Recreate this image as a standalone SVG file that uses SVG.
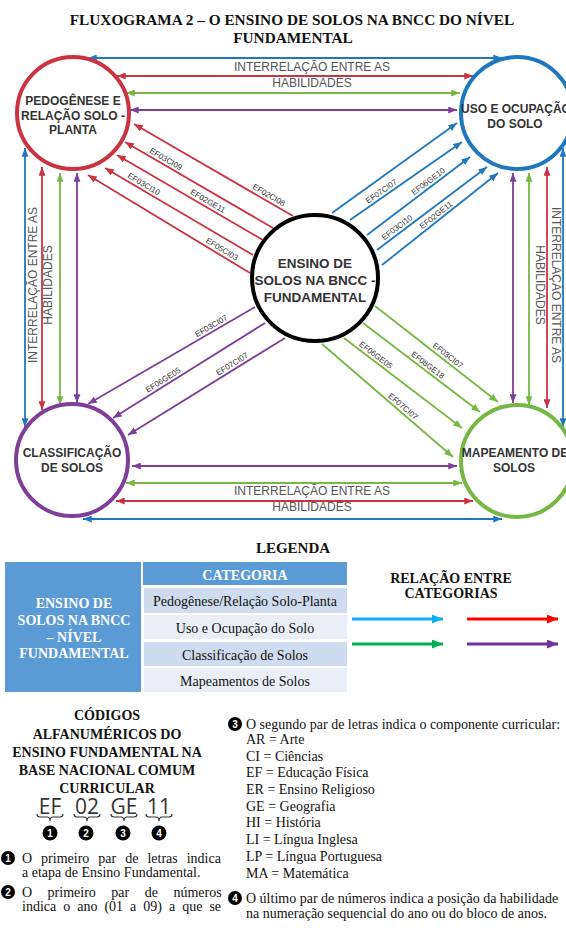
<svg xmlns="http://www.w3.org/2000/svg" width="566" height="928" viewBox="0 0 566 928">
<style>
.bg{fill:#fff}
.ttl{font-family:"Liberation Serif","Times New Roman",serif;font-weight:bold;font-size:15.3px;fill:#111;text-anchor:middle}
.ring{fill:#fff;stroke-width:4}
.nt{font-family:"Liberation Sans",Arial,sans-serif;font-weight:bold;font-size:12px;fill:#333;text-anchor:middle}
.ct{font-family:"Liberation Sans",Arial,sans-serif;font-weight:bold;font-size:13.5px;fill:#333;text-anchor:middle}
.cn{fill:none;stroke-width:1.8}
.r{stroke:#cc3340}.b{stroke:#1f78bd}.g{stroke:#76b843}.p{stroke:#7f3f98}
.r.cn{marker-end:url(#mr)}.b.cn{marker-end:url(#mb)}.g.cn{marker-end:url(#mg)}.p.cn{marker-end:url(#mp)}
.dr{marker-start:url(#mr)}.db{marker-start:url(#mb)}.dg{marker-start:url(#mg)}.dp{marker-start:url(#mp)}
.lb{font-family:"Liberation Sans",Arial,sans-serif;font-size:8px;fill:#333;text-anchor:middle}
.hab{font-family:"Liberation Sans",Arial,sans-serif;font-size:12px;fill:#555;text-anchor:middle}
.sf{font-family:"Liberation Serif","Times New Roman",serif;font-size:14px;fill:#111}
.sfb{font-family:"Liberation Serif","Times New Roman",serif;font-size:14px;font-weight:bold;fill:#111;text-anchor:middle}
.wt{fill:#fff}
.cell1{fill:#cfdbee}.cell2{fill:#e9eef7}
.code{font-family:"Open Sans","Noto Sans",sans-serif;font-size:21px;fill:#333;text-anchor:middle}
.brace{fill:none;stroke:#333;stroke-width:1.2}
.num{font-family:"Liberation Sans",Arial,sans-serif;font-weight:bold;font-size:10px;fill:#fff;text-anchor:middle}
.lg{fill:none;stroke-width:3}
</style>
<defs>
<marker id="mr" viewBox="0 0 10 8" refX="10" refY="4" markerWidth="9" markerHeight="7" markerUnits="userSpaceOnUse" orient="auto-start-reverse"><path d="M0,0L10,4L0,8z" fill="#cc3340"/></marker>
<marker id="mb" viewBox="0 0 10 8" refX="10" refY="4" markerWidth="9" markerHeight="7" markerUnits="userSpaceOnUse" orient="auto-start-reverse"><path d="M0,0L10,4L0,8z" fill="#1f78bd"/></marker>
<marker id="mg" viewBox="0 0 10 8" refX="10" refY="4" markerWidth="9" markerHeight="7" markerUnits="userSpaceOnUse" orient="auto-start-reverse"><path d="M0,0L10,4L0,8z" fill="#76b843"/></marker>
<marker id="mp" viewBox="0 0 10 8" refX="10" refY="4" markerWidth="9" markerHeight="7" markerUnits="userSpaceOnUse" orient="auto-start-reverse"><path d="M0,0L10,4L0,8z" fill="#7f3f98"/></marker>
<marker id="lc" viewBox="0 0 10 8" refX="10" refY="4" markerWidth="11" markerHeight="9" markerUnits="userSpaceOnUse" orient="auto"><path d="M0,0L10,4L0,8z" fill="#12aef0"/></marker>
<marker id="lr" viewBox="0 0 10 8" refX="10" refY="4" markerWidth="11" markerHeight="9" markerUnits="userSpaceOnUse" orient="auto"><path d="M0,0L10,4L0,8z" fill="#ff0000"/></marker>
<marker id="lgm" viewBox="0 0 10 8" refX="10" refY="4" markerWidth="11" markerHeight="9" markerUnits="userSpaceOnUse" orient="auto"><path d="M0,0L10,4L0,8z" fill="#00b050"/></marker>
<marker id="lp" viewBox="0 0 10 8" refX="10" refY="4" markerWidth="11" markerHeight="9" markerUnits="userSpaceOnUse" orient="auto"><path d="M0,0L10,4L0,8z" fill="#7030a0"/></marker>
</defs>
<rect class="bg" width="566" height="928"/>

<g id="title">
<text class="ttl" x="292" y="25">FLUXOGRAMA 2 – O ENSINO DE SOLOS NA BNCC DO NÍVEL</text>
<text class="ttl" x="293" y="43">FUNDAMENTAL</text>
</g>

<g id="connectors">
<path class="cn b db" d="M88,58H502"/>
<path class="cn r dr" d="M117,76H473"/>
<path class="cn g dg" d="M126,93H460"/>
<path class="cn p dp" d="M130,110H457"/>
<path class="cn p dp" d="M132,466H457"/>
<path class="cn g dg" d="M126,483H462"/>
<path class="cn r dr" d="M116,501H473"/>
<path class="cn b db" d="M83,519H502"/>
<path class="cn b db" d="M25,148V427"/>
<path class="cn r dr" d="M42,167V410"/>
<path class="cn g dg" d="M60,173V405"/>
<path class="cn p dp" d="M77,173V403"/>
<path class="cn p dp" d="M513,173V403"/>
<path class="cn g dg" d="M529,173V405"/>
<path class="cn r dr" d="M547,167V408"/>
<path class="cn b db" d="M563,148V427"/>
<path class="cn r" d="M293,216L134,124"/>
<path class="cn r" d="M273,228L125,142"/>
<path class="cn r" d="M263,240L117,155"/>
<path class="cn r" d="M253,255L105,168"/>
<path class="cn r" d="M250,273L88,175"/>
<path class="cn b" d="M332,213L457,123"/>
<path class="cn b" d="M350,220L462,142"/>
<path class="cn b" d="M367,235L470,157"/>
<path class="cn b" d="M377,250L487,167"/>
<path class="cn b" d="M382,265L498,173"/>
<path class="cn g" d="M375,306L498,402"/>
<path class="cn g" d="M363,323L480,412"/>
<path class="cn g" d="M344,338L462,428"/>
<path class="cn g" d="M322,344L453,457"/>
<path class="cn p" d="M255,307L88,404"/>
<path class="cn p" d="M265,323L113,418"/>
<path class="cn p" d="M285,338L128,435"/>

<text class="hab" x="312" y="71">INTERRELAÇÃO ENTRE AS</text>
<text class="hab" x="312" y="87">HABILIDADES</text>
<text class="hab" x="312" y="495">INTERRELAÇÃO ENTRE AS</text>
<text class="hab" x="312" y="511">HABILIDADES</text>
<text class="hab" transform="translate(37,285) rotate(-90)">INTERRELAÇÃO ENTRE AS</text>
<text class="hab" transform="translate(52,285) rotate(-90)">HABILIDADES</text>
<text class="hab" transform="translate(552,285) rotate(90)">INTERRELAÇÃO ENTRE AS</text>
<text class="hab" transform="translate(536,285) rotate(90)">HABILIDADES</text>

<text class="lb" transform="translate(163,164) rotate(30.2)" y="-3">EF03CI09</text>
<text class="lb" transform="translate(266,200) rotate(30.1)" y="-3">EF02CI08</text>
<text class="lb" transform="translate(141,189) rotate(30.5)" y="-3">EF03CI10</text>
<text class="lb" transform="translate(205,206) rotate(30.2)" y="-3">EF02GE11</text>
<text class="lb" transform="translate(219,254) rotate(31.2)" y="-3">EF05CI03</text>
<text class="lb" transform="translate(384.5,196) rotate(-34.8)" y="-3">EF07CI07</text>
<text class="lb" transform="translate(431.5,186) rotate(-37.1)" y="-3">EF06GE10</text>
<text class="lb" transform="translate(400.5,232) rotate(-37)" y="-3">EF03CI10</text>
<text class="lb" transform="translate(439.5,219.5) rotate(-38.4)" y="-3">EF02GE11</text>
<text class="lb" transform="translate(444.3,360) rotate(38)" y="-3">EF03CI07</text>
<text class="lb" transform="translate(424.3,369.6) rotate(37.3)" y="-3">EF08GE18</text>
<text class="lb" transform="translate(372.3,359.6) rotate(37.3)" y="-3">EF06GE05</text>
<text class="lb" transform="translate(399.3,410.7) rotate(40.8)" y="-3">EF07CI07</text>
<text class="lb" transform="translate(214.1,330.8) rotate(-30.2)" y="-3">EF03CI07</text>
<text class="lb" transform="translate(166.1,384.8) rotate(-32)" y="-3">EF06GE05</text>
<text class="lb" transform="translate(235.1,368.8) rotate(-31.7)" y="-3">EF07CI07</text>
</g>

<g id="node-pedogenese">
<circle class="ring r" cx="73" cy="113" r="56"/>
<text class="nt" x="73" y="105">PEDOGÊNESE E</text>
<text class="nt" x="73" y="120">RELAÇÃO SOLO -</text>
<text class="nt" x="73" y="134">PLANTA</text>
</g>
<g id="node-uso">
<circle class="ring b" cx="517" cy="113" r="56"/>
<text class="nt" x="516" y="113">USO E OCUPAÇÃO</text>
<text class="nt" x="515" y="128">DO SOLO</text>
</g>
<g id="node-classificacao">
<circle class="ring p" cx="72" cy="460" r="56"/>
<text class="nt" x="72" y="457">CLASSIFICAÇÃO</text>
<text class="nt" x="72" y="472">DE SOLOS</text>
</g>
<g id="node-mapeamento">
<circle class="ring g" cx="517" cy="461" r="56"/>
<text class="nt" x="515" y="457">MAPEAMENTO DE</text>
<text class="nt" x="514" y="472">SOLOS</text>
</g>
<g id="node-ensino">
<circle class="ring" stroke="#000" cx="315" cy="278" r="63"/>
<text class="ct" x="315" y="268">ENSINO DE</text>
<text class="ct" x="315" y="285">SOLOS NA BNCC -</text>
<text class="ct" x="315" y="302">FUNDAMENTAL</text>
</g>

<g id="legenda">
<text class="sfb" x="293" y="553" style="font-size:15px">LEGENDA</text>
<rect x="5" y="562" width="136" height="130" fill="#5b9bd5"/>
<text class="sfb wt" x="74" y="608">ENSINO DE</text>
<text class="sfb wt" x="74" y="625">SOLOS NA BNCC</text>
<text class="sfb wt" x="74" y="642">– NÍVEL</text>
<text class="sfb wt" x="74" y="658">FUNDAMENTAL</text>
<rect x="143" y="562" width="204" height="23" fill="#5b9bd5"/>
<text class="sfb wt" x="245" y="580">CATEGORIA</text>
<rect class="cell1" x="144" y="588" width="203" height="25"/>
<rect class="cell2" x="144" y="615" width="203" height="24"/>
<rect class="cell1" x="144" y="642" width="203" height="24"/>
<rect class="cell2" x="144" y="668" width="203" height="24"/>
<text class="sf" x="245" y="606" text-anchor="middle">Pedogênese/Relação Solo-Planta</text>
<text class="sf" x="245" y="633" text-anchor="middle">Uso e Ocupação do Solo</text>
<text class="sf" x="245" y="660" text-anchor="middle">Classificação de Solos</text>
<text class="sf" x="245" y="686" text-anchor="middle">Mapeamentos de Solos</text>
<text class="sfb" x="451" y="583">RELAÇÃO ENTRE</text>
<text class="sfb" x="451" y="598">CATEGORIAS</text>
<path class="lg" stroke="#12aef0" marker-end="url(#lc)" d="M352,619H443"/>
<path class="lg" stroke="#ff0000" marker-end="url(#lr)" d="M467,619H558"/>
<path class="lg" stroke="#00b050" marker-end="url(#lgm)" d="M352,644H443"/>
<path class="lg" stroke="#7030a0" marker-end="url(#lp)" d="M467,644H558"/>
</g>

<g id="codigos">
<text class="sfb" x="107" y="720">CÓDIGOS</text>
<text class="sfb" x="107" y="739">ALFANUMÉRICOS DO</text>
<text class="sfb" x="107" y="757">ENSINO FUNDAMENTAL NA</text>
<text class="sfb" x="107" y="775">BASE NACIONAL COMUM</text>
<text class="sfb" x="107" y="793">CURRICULAR</text>
<text class="code" x="50" y="814">EF</text>
<text class="code" x="87" y="814">02</text>
<text class="code" x="124" y="814">GE</text>
<text class="code" x="159" y="814">11</text>
<path class="brace" d="M37,814q0,3 3,3h7q3,0 3,4q0,-4 3,-4h7q3,0 3,-3"/>
<path class="brace" d="M74,814q0,3 3,3h7q3,0 3,4q0,-4 3,-4h7q3,0 3,-3"/>
<path class="brace" d="M111,814q0,3 3,3h7q3,0 3,4q0,-4 3,-4h7q3,0 3,-3"/>
<path class="brace" d="M146,814q0,3 3,3h7q3,0 3,4q0,-4 3,-4h7q3,0 3,-3"/>
<circle cx="50" cy="833" r="7.5" fill="#000"/><text class="num" x="50" y="836.5">1</text>
<circle cx="86" cy="833" r="7.5" fill="#000"/><text class="num" x="86" y="836.5">2</text>
<circle cx="123" cy="833" r="7.5" fill="#000"/><text class="num" x="123" y="836.5">3</text>
<circle cx="159" cy="833" r="7.5" fill="#000"/><text class="num" x="159" y="836.5">4</text>

<circle cx="8" cy="858" r="7" fill="#000"/><text class="num" x="8" y="861.5">1</text>
<text class="sf" x="22" y="863" word-spacing="5.5">O primeiro par de letras indica</text>
<text class="sf" x="22" y="877">a etapa de Ensino Fundamental.</text>
<circle cx="8" cy="892" r="7" fill="#000"/><text class="num" x="8" y="895.5">2</text>
<text class="sf" x="22" y="897" word-spacing="12">O primeiro par de números</text>
<text class="sf" x="22" y="911" word-spacing="3.5">indica o ano (01 a 09) a que se</text>

<circle cx="235" cy="724" r="7" fill="#000"/><text class="num" x="235" y="727.5">3</text>
<text class="sf" x="246" y="729">O segundo par de letras indica o componente curricular:</text>
<text class="sf" x="246" y="744">AR = Arte</text>
<text class="sf" x="246" y="761">CI = Ciências</text>
<text class="sf" x="246" y="777">EF = Educação Física</text>
<text class="sf" x="246" y="794">ER = Ensino Religioso</text>
<text class="sf" x="246" y="811">GE = Geografia</text>
<text class="sf" x="246" y="827">HI = História</text>
<text class="sf" x="246" y="844">LI = Língua Inglesa</text>
<text class="sf" x="246" y="861">LP = Língua Portuguesa</text>
<text class="sf" x="246" y="878">MA = Matemática</text>
<circle cx="235" cy="898" r="7" fill="#000"/><text class="num" x="235" y="901.5">4</text>
<text class="sf" x="246" y="903">O último par de números indica a posição da habilidade</text>
<text class="sf" x="246" y="918">na numeração sequencial do ano ou do bloco de anos.</text>
</g>
</svg>
